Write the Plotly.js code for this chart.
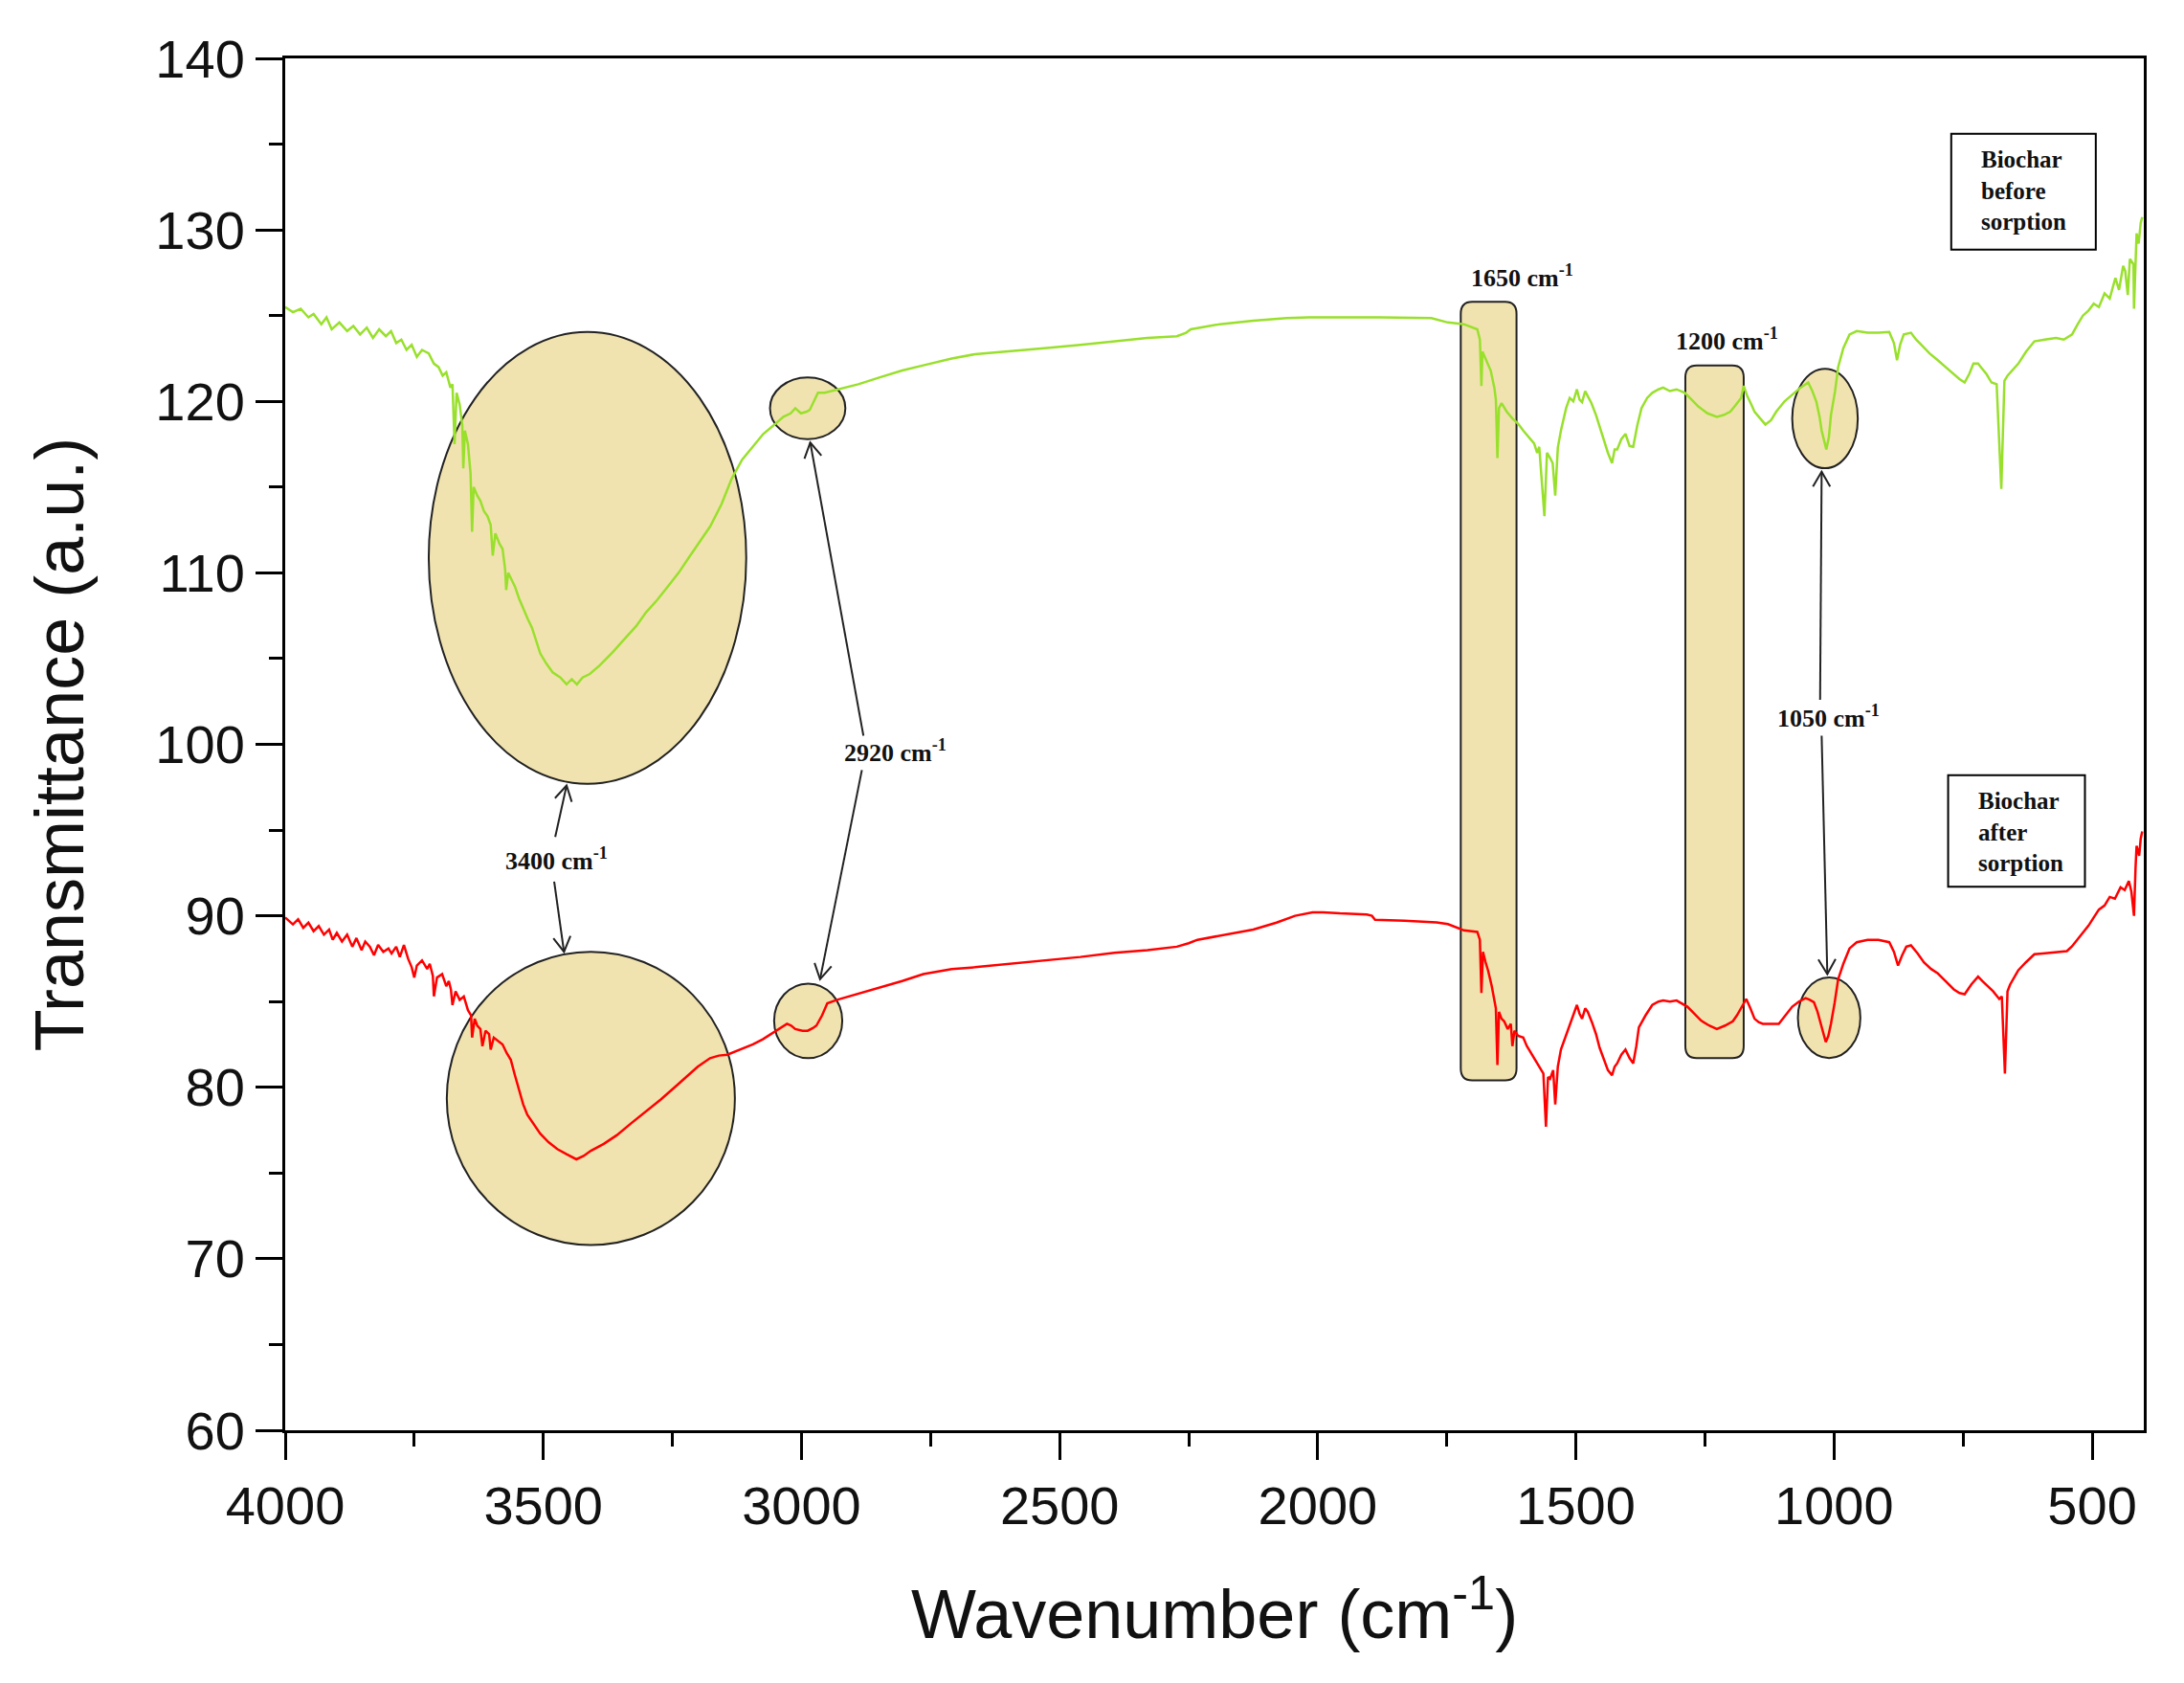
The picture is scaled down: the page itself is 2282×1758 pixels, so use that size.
<!DOCTYPE html>
<html>
<head>
<meta charset="utf-8">
<script src="https://cdn.plot.ly/plotly-3.0.1.min.js"></script>
<style>
  html, body { margin: 0; padding: 0; background: #fff; }
  #chart { width: 2282px; height: 1758px; }
</style>
</head>
<body>
<div id="chart"></div>
<script>
// FTIR spectra (wavenumber in cm-1, transmittance in a.u.)
const beforeWn = [
  4000, 3985, 3970, 3955, 3945, 3930, 3920, 3910, 3895, 3880, 3868, 3855, 3842, 3830, 3818, 3805,
  3795, 3785, 3775, 3765, 3755, 3745, 3735, 3722, 3712, 3703, 3695, 3688, 3680, 3676, 3672, 3668,
  3662, 3657, 3655, 3652, 3646, 3641, 3638, 3635, 3628, 3622, 3615, 3608, 3602, 3598, 3593, 3585,
  3579, 3574, 3572, 3568, 3560, 3555, 3547, 3539, 3530, 3522, 3514, 3506, 3494, 3482, 3467, 3455,
  3445, 3435, 3424, 3410, 3391, 3365, 3341, 3320, 3301, 3280, 3259, 3238, 3218, 3197, 3177, 3155,
  3135, 3115, 3094, 3074, 3054, 3035, 3021, 3012, 3001, 2990, 2984, 2975, 2968, 2955, 2931, 2890,
  2848, 2805, 2764, 2709, 2664, 2600, 2530, 2460, 2394, 2330, 2273, 2255, 2246, 2190, 2125, 2060,
  2017, 1957, 1880, 1780, 1748, 1717, 1691, 1686, 1683, 1681, 1672, 1665, 1658, 1655, 1652, 1649,
  1644, 1634, 1623, 1612, 1602, 1591, 1581, 1575, 1571, 1561, 1556, 1550, 1545, 1540, 1535, 1529,
  1524, 1519, 1512, 1505, 1498, 1493, 1488, 1482, 1477, 1470, 1461, 1454, 1446, 1438, 1430, 1425,
  1420, 1412, 1404, 1396, 1389, 1381, 1373, 1362, 1352, 1340, 1331, 1318, 1305, 1289, 1276, 1263,
  1245, 1227, 1214, 1201, 1190, 1180, 1175, 1168, 1160, 1154, 1143, 1133, 1122, 1112, 1096, 1081,
  1065, 1050, 1042, 1034, 1028, 1024, 1019, 1015, 1010, 1006, 998, 992, 982, 970, 956, 935,
  914, 893, 884, 878, 872, 865, 851, 841, 831, 815, 799, 784, 768, 757, 747, 738,
  730, 721, 713, 705, 695, 685, 676, 670, 664, 653, 643, 628, 612, 592, 570, 555,
  539, 528, 518, 507, 497, 487, 476, 466, 455, 448, 440, 436, 431, 427, 420, 419,
  416, 414, 410, 406, 403
];
const beforeT = [
  125.5, 125.2, 125.4, 124.9, 125.1, 124.5, 124.9, 124.2, 124.6, 124.1, 124.4, 123.9, 124.3, 123.7, 124.2, 123.8,
  124.1, 123.4, 123.6, 123.0, 123.3, 122.6, 123.0, 122.8, 122.2, 122.0, 121.5, 121.7, 120.8, 121.0, 117.5, 120.5,
  119.8, 118.6, 116.1, 118.3, 117.5, 115.8, 112.4, 115.0, 114.5, 114.2, 113.6, 113.3, 112.8, 111.0, 112.3, 111.7,
  111.4, 110.2, 109.0, 110.0, 109.5, 109.2, 108.5, 107.9, 107.3, 106.8, 106.0, 105.3, 104.7, 104.2, 103.9, 103.5,
  103.8, 103.5, 103.9, 104.1, 104.6, 105.4, 106.2, 106.9, 107.7, 108.4, 109.2, 110.0, 110.9, 111.8, 112.7, 114.0,
  115.5, 116.6, 117.4, 118.1, 118.6, 119.1, 119.3, 119.6, 119.3, 119.4, 119.5, 120.1, 120.5, 120.5, 120.7, 121.0,
  121.4, 121.8, 122.1, 122.5, 122.75, 122.9, 123.1, 123.3, 123.5, 123.7, 123.8, 124.0, 124.2, 124.5, 124.7, 124.85,
  124.9, 124.9, 124.9, 124.85, 124.6, 124.5, 124.2, 123.6, 120.9, 122.9, 122.3, 121.8, 120.8, 120.1, 116.7, 119.6,
  119.9, 119.4, 119.0, 118.7, 118.3, 117.9, 117.55, 117.0, 117.35, 113.3, 117.0, 116.7, 116.4, 114.5, 117.3, 118.3,
  118.9, 119.6, 120.2, 120.0, 120.7, 120.1, 119.95, 120.6, 120.3, 119.9, 119.2, 118.5, 117.7, 117.0, 116.4, 117.2,
  117.2, 117.8, 118.1, 117.4, 117.35, 118.6, 119.6, 120.2, 120.5, 120.7, 120.8, 120.6, 120.7, 120.5, 120.1, 119.7,
  119.3, 119.1, 119.2, 119.4, 119.8, 120.2, 120.9, 120.3, 119.8, 119.4, 119.0, 118.65, 118.9, 119.4, 120.0, 120.4,
  120.8, 121.1, 120.6, 119.95, 119.1, 118.3, 117.6, 117.2, 117.9, 119.2, 120.6, 122.0, 123.1, 123.9, 124.1, 124.0,
  124.0, 124.05, 123.4, 122.4, 123.3, 123.9, 124.0, 123.6, 123.3, 122.8, 122.4, 122.0, 121.6, 121.3, 121.1, 121.6,
  122.2, 122.2, 121.9, 121.6, 121.1, 121.0, 114.9, 121.2, 121.5, 121.9, 122.2, 122.9, 123.5, 123.6, 123.7, 123.6,
  123.9, 124.5, 125.0, 125.3, 125.7, 125.5, 126.3, 126.0, 127.2, 126.5, 127.9, 127.6, 126.2, 128.3, 128.0, 125.4,
  128.6, 129.8, 129.2, 130.4, 130.75
];

const afterWn = [
  4000, 3985, 3975, 3965, 3955, 3945, 3935, 3925, 3915, 3908, 3900, 3890, 3880, 3870, 3862, 3852,
  3845, 3836, 3828, 3820, 3810, 3800, 3794, 3785, 3778, 3770, 3762, 3755, 3750, 3745, 3735, 3725,
  3720, 3714, 3712, 3706, 3696, 3688, 3683, 3679, 3676, 3670, 3662, 3654, 3646, 3640, 3638, 3633,
  3628, 3622, 3618, 3612, 3605, 3602, 3596, 3588, 3579, 3571, 3563, 3555, 3546, 3539, 3531, 3518,
  3506, 3490, 3473, 3455, 3436, 3422, 3408, 3383, 3358, 3330, 3301, 3272, 3242, 3220, 3201, 3177,
  3160, 3144, 3120, 3094, 3075, 3054, 3040, 3028, 3020, 3012, 2998, 2988, 2978, 2971, 2960, 2950,
  2931, 2890, 2848, 2805, 2764, 2709, 2664, 2600, 2530, 2460, 2394, 2330, 2273, 2250, 2233, 2180,
  2125, 2080, 2044, 2010, 1990, 1957, 1905, 1895, 1889, 1832, 1770, 1748, 1717, 1691, 1686, 1683,
  1680, 1675, 1670, 1663, 1658, 1655, 1652, 1649, 1644, 1639, 1632, 1626, 1623, 1619, 1612, 1602,
  1595, 1587, 1579, 1571, 1563, 1558, 1554, 1550, 1544, 1540, 1535, 1529, 1522, 1514, 1506, 1498,
  1493, 1488, 1482, 1477, 1469, 1461, 1454, 1446, 1438, 1430, 1425, 1420, 1412, 1404, 1396, 1389,
  1383, 1378, 1365, 1352, 1340, 1331, 1318, 1305, 1295, 1284, 1271, 1258, 1242, 1227, 1211, 1196,
  1188, 1180, 1170, 1162, 1154, 1146, 1138, 1122, 1107, 1094, 1081, 1068, 1055, 1047, 1039, 1032,
  1026, 1021, 1016, 1011, 1006, 999, 992, 982, 970, 956, 935, 914, 893, 884, 876, 868,
  860, 851, 838, 826, 812, 799, 784, 768, 757, 747, 734, 721, 713, 705, 692, 680,
  675, 669, 664, 659, 651, 643, 628, 612, 596, 581, 565, 549, 539, 523, 507, 497,
  487, 476, 466, 456, 445, 437, 429, 424, 419, 416, 414, 409, 406, 403
];
const afterT = [
  89.9, 89.5, 89.8, 89.3, 89.6, 89.1, 89.4, 88.9, 89.2, 88.6, 89.0, 88.5, 88.9, 88.2, 88.7, 88.0,
  88.5, 88.2, 87.7, 88.3, 87.9, 88.1, 87.8, 88.2, 87.6, 88.3, 87.5, 87.0, 86.4, 87.1, 87.4, 86.9,
  87.2, 86.5, 85.3, 86.4, 86.6, 85.9, 86.2, 85.7, 84.8, 85.6, 85.1, 85.3, 84.5, 84.2, 82.9, 84.0,
  83.6, 83.4, 82.4, 83.3, 83.1, 82.2, 82.9, 82.7, 82.5, 82.0, 81.6, 80.7, 79.7, 79.0, 78.4, 77.8,
  77.3, 76.8, 76.4, 76.1, 75.8, 76.0, 76.3, 76.7, 77.2, 77.9, 78.6, 79.3, 80.1, 80.7, 81.2, 81.7,
  81.85, 81.9, 82.2, 82.5, 82.8, 83.2, 83.5, 83.7, 83.6, 83.4, 83.3, 83.3, 83.45, 83.6, 84.2, 84.9,
  85.1, 85.45, 85.8, 86.2, 86.6, 86.9, 87.0, 87.2, 87.4, 87.6, 87.85, 88.0, 88.2, 88.4, 88.6, 88.9,
  89.2, 89.6, 90.0, 90.2, 90.2, 90.14, 90.08, 90.0, 89.77, 89.71, 89.62, 89.52, 89.15, 89.06, 88.6, 85.5,
  87.9, 87.3, 86.8, 85.9, 85.0, 84.6, 81.3, 84.4, 84.0, 83.85, 83.4, 83.7, 82.4, 83.3, 83.0, 82.9,
  82.4, 82.0, 81.6, 81.24, 80.8, 77.7, 80.6, 80.5, 81.0, 79.0, 81.2, 82.2, 82.8, 83.5, 84.2, 84.8,
  84.3, 84.0, 84.6, 84.4, 83.8, 83.1, 82.3, 81.6, 81.0, 80.7, 81.2, 81.4, 81.9, 82.2, 81.7, 81.4,
  82.4, 83.5, 84.2, 84.8, 85.0, 85.06, 85.0, 85.06, 84.9, 84.7, 84.3, 83.9, 83.6, 83.4, 83.6, 83.85,
  84.2, 84.6, 85.15, 84.6, 84.0, 83.8, 83.7, 83.7, 83.7, 84.2, 84.7, 85.0, 85.2, 85.1, 84.96, 84.4,
  83.7, 83.1, 82.64, 83.0, 83.7, 84.9, 86.3, 87.2, 88.1, 88.46, 88.6, 88.6, 88.46, 87.9, 87.1, 87.7,
  88.2, 88.28, 87.8, 87.29, 86.9, 86.64, 86.2, 85.71, 85.5, 85.43, 86.0, 86.45, 86.2, 85.99, 85.6, 85.15,
  85.3, 80.8, 85.6, 85.99, 86.4, 86.83, 87.3, 87.76, 87.8, 87.85, 87.9, 87.94, 88.22, 88.8, 89.43, 89.9,
  90.36, 90.6, 91.1, 91.0, 91.66, 91.5, 92.03, 91.4, 90.0, 92.8, 94.08, 93.5, 94.5, 94.92
];

// highlighted bands: [left wn, right wn, bottom T, top T]
const bandEllipses = [
  [3722, 3107, 97.7, 124.05],
  [3061, 2915, 117.8, 121.4],
  [3687, 3129, 70.8, 87.9],
  [3053, 2921, 81.7, 86.05],
  [1081, 954, 116.1, 121.9],
  [1070, 949, 81.7, 86.4],
];
const bandBars = [
  [1723, 1615, 80.4, 125.8],
  [1288, 1175, 81.7, 122.1],
];

// peak labels: [text, wn, T]
const peakLabels = [
  ["3400 cm<sup>-1</sup>", 3474, 93.3],
  ["2920 cm<sup>-1</sup>", 2818, 99.6],
  ["1650 cm<sup>-1</sup>", 1604, 127.3],
  ["1200 cm<sup>-1</sup>", 1208, 123.6],
  ["1050 cm<sup>-1</sup>", 1011, 101.6],
];
// arrows: [tail wn, tail T, head wn, head T]
const peakArrows = [
  [3477, 94.6, 3455, 97.6],
  [3479, 92.0, 3460, 87.9],
  [2880, 100.5, 2983, 117.6],
  [2883, 98.5, 2964, 86.3],
  [1027, 102.6, 1024, 115.9],
  [1024, 100.5, 1013, 86.6],
];

const FILL = "#F0E3B0";
const serif = "Liberation Serif, Times New Roman, serif";
const sans = "Liberation Sans, Arial, sans-serif";

// pixels per data unit, from the plot box (1942 px for 3600 cm-1, 1433 px for 80 a.u.)
const PX_X = 1942 / 3600;
const PX_Y = 1433 / 80;

function roundedBar([l, r, b, t]) {
  const rx = 22, ry = 0.7;
  return `M${l - rx},${t} L${r + rx},${t} Q${r},${t} ${r},${t - ry} ` +
    `L${r},${b + ry} Q${r},${b} ${r + rx},${b} L${l - rx},${b} ` +
    `Q${l},${b} ${l},${b + ry} L${l},${t - ry} Q${l},${t} ${l - rx},${t} Z`;
}

// open "V" arrow head drawn in screen space, returned as a data-space path
function arrowHead([tx, ty, hx, hy]) {
  const dx = -(hx - tx) * PX_X;
  const dy = -(hy - ty) * PX_Y;
  const len = Math.hypot(dx, dy);
  const ux = dx / len, uy = dy / len;
  const size = 18, spread = Math.PI / 6;
  const wing = (sign) => {
    const c = Math.cos(sign * spread), s = Math.sin(sign * spread);
    const rx = ux * c - uy * s, ry = ux * s + uy * c;
    return [hx + (rx * size) / PX_X, hy + (ry * size) / PX_Y];
  };
  const [ax, ay] = wing(1);
  const [bx, by] = wing(-1);
  return `M${ax},${ay} L${hx},${hy} L${bx},${by}`;
}

const shapes = [
  ...bandEllipses.map(([x0, x1, y0, y1]) => ({
    type: "circle", xref: "x", yref: "y", x0, x1, y0, y1,
    fillcolor: FILL, line: { color: "#222", width: 2 }, layer: "below",
  })),
  ...bandBars.map((bar) => ({
    type: "path", xref: "x", yref: "y", path: roundedBar(bar),
    fillcolor: FILL, line: { color: "#222", width: 2 }, layer: "below",
  })),
  ...peakArrows.map(([tx, ty, hx, hy]) => ({
    type: "line", xref: "x", yref: "y", x0: tx, y0: ty, x1: hx, y1: hy,
    line: { color: "#222", width: 2 },
  })),
  ...peakArrows.map((arrow) => ({
    type: "path", xref: "x", yref: "y", path: arrowHead(arrow),
    line: { color: "#222", width: 2 },
  })),
  { type: "rect", xref: "x", yref: "y", x0: 773, x1: 493, y0: 128.85, y1: 135.6,
    line: { color: "#000", width: 2 }, fillcolor: "rgba(0,0,0,0)" },
  { type: "rect", xref: "x", yref: "y", x0: 779, x1: 514, y0: 91.7, y1: 98.2,
    line: { color: "#000", width: 2 }, fillcolor: "rgba(0,0,0,0)" },
];

const annotations = [
  ...peakLabels.map(([text, x, y]) => ({
    x, y, xref: "x", yref: "y", text: `<b>${text}</b>`, showarrow: false,
    font: { family: serif, size: 26, color: "#111" },
  })),
  { x: 719, y: 132.3, xref: "x", yref: "y", xanchor: "left", align: "left",
    text: "<b>Biochar<br>before<br>sorption</b>", showarrow: false,
    font: { family: serif, size: 25, color: "#111" } },
  { x: 725, y: 94.9, xref: "x", yref: "y", xanchor: "left", align: "left",
    text: "<b>Biochar<br>after<br>sorption</b>", showarrow: false,
    font: { family: serif, size: 25, color: "#111" } },
];

const traces = [
  { type: "scatter", mode: "lines", name: "Biochar before sorption",
    x: beforeWn, y: beforeT, line: { color: "#99E02C", width: 2.5 } },
  { type: "scatter", mode: "lines", name: "Biochar after sorption",
    x: afterWn, y: afterT, line: { color: "#FF0000", width: 2.5 } },
];

const axisBase = {
  showline: true, linecolor: "#000", linewidth: 3, mirror: true,
  showgrid: false, zeroline: false,
  ticks: "outside", ticklen: 28, tickwidth: 3, tickcolor: "#000",
  tickfont: { family: sans, size: 56, color: "#111" },
};

const layout = {
  width: 2282, height: 1758,
  paper_bgcolor: "#fff", plot_bgcolor: "#fff",
  margin: { l: 298, r: 42, t: 61, b: 264 },
  showlegend: false,
  xaxis: {
    ...axisBase,
    range: [4000, 400],
    tick0: 4000, dtick: 500,
    minor: { dtick: 250, ticks: "outside", ticklen: 14, tickwidth: 3, tickcolor: "#000" },
    title: { text: "Wavenumber (cm<sup>-1</sup>)", standoff: 58,
      font: { family: sans, size: 72, color: "#111" } },
  },
  yaxis: {
    ...axisBase,
    range: [60, 140],
    tick0: 60, dtick: 10,
    minor: { dtick: 5, ticks: "outside", ticklen: 14, tickwidth: 3, tickcolor: "#000" },
    title: { text: "Transmittance (a.u.)", standoff: 52,
      font: { family: sans, size: 72, color: "#111" } },
  },
  shapes,
  annotations,
};

Plotly.newPlot("chart", traces, layout, { staticPlot: true, displayModeBar: false });
</script>
</body>
</html>
